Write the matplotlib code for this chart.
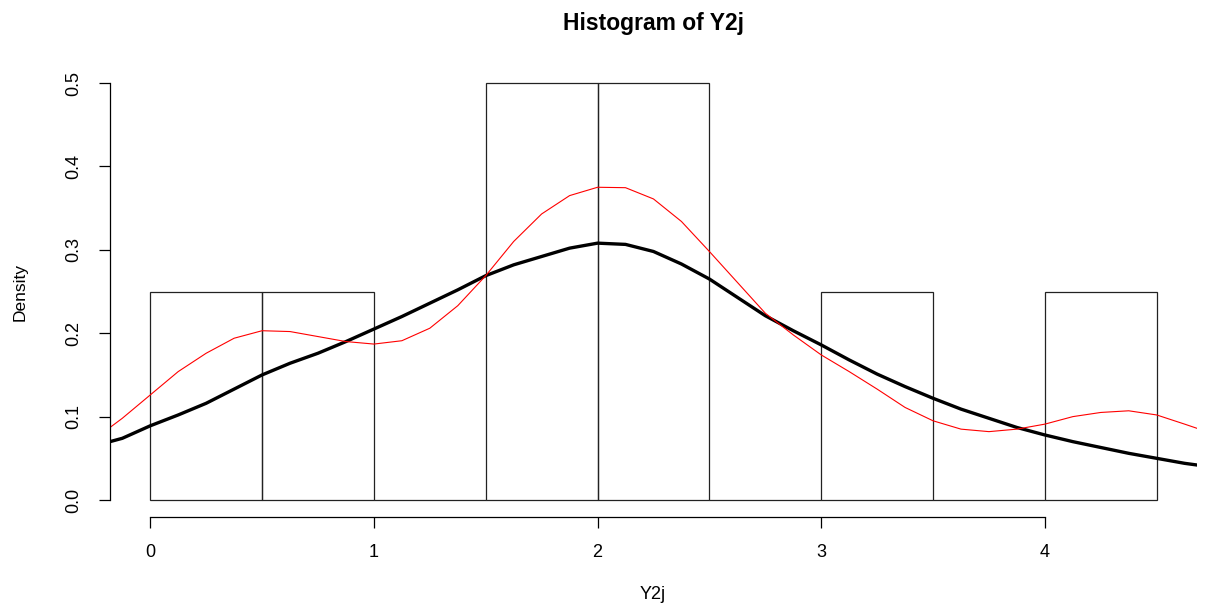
import numpy as np
import matplotlib
matplotlib.use('Agg')
import matplotlib.pyplot as plt

plt.rcParams['font.family'] = ['Liberation Sans', 'DejaVu Sans']

# 直方图（密度）
bin_left = [0.0, 0.5, 1.0, 1.5, 2.0, 2.5, 3.0, 3.5, 4.0]
bin_width = 0.5
density = [0.25, 0.25, 0.0, 0.5, 0.5, 0.0, 0.25, 0.0, 0.25]

# 曲线横坐标
curve_x = [-0.18, -0.125, 0.0, 0.125, 0.25, 0.375, 0.5, 0.625, 0.75, 0.875,
           1.0, 1.125, 1.25, 1.375, 1.5, 1.625, 1.75, 1.875, 2.0, 2.125,
           2.25, 2.375, 2.5, 2.625, 2.75, 2.875, 3.0, 3.125, 3.25, 3.375,
           3.5, 3.625, 3.75, 3.875, 4.0, 4.125, 4.25, 4.375, 4.5, 4.625, 4.68]

# 黑色粗线
black_y = [0.070, 0.074, 0.089, 0.102, 0.116, 0.133, 0.150, 0.164, 0.176, 0.190,
           0.205, 0.220, 0.236, 0.252, 0.269, 0.282, 0.292, 0.302, 0.308, 0.3065,
           0.298, 0.283, 0.265, 0.243, 0.221, 0.203, 0.186, 0.168, 0.151, 0.136,
           0.122, 0.109, 0.098, 0.087, 0.078, 0.070, 0.063, 0.056, 0.050, 0.044, 0.042]

# 红色细线
red_y = [0.087, 0.098, 0.126, 0.154, 0.176, 0.194, 0.203, 0.202, 0.196, 0.190,
         0.187, 0.191, 0.206, 0.233, 0.269, 0.310, 0.343, 0.365, 0.375, 0.3745,
         0.361, 0.334, 0.298, 0.261, 0.224, 0.198, 0.174, 0.154, 0.133, 0.111,
         0.095, 0.085, 0.082, 0.085, 0.091, 0.100, 0.105, 0.107, 0.102, 0.091, 0.086]

fig = plt.figure(figsize=(12.06, 6.03), dpi=100)
ax = fig.add_axes([0.0912, 0.1431, 0.9013, 0.7469])

ax.bar(bin_left, density, width=bin_width, align='edge', fill=False,
       edgecolor='#222222', linewidth=0.9)
ax.plot(curve_x, black_y, color='black', linewidth=2.4, solid_joinstyle='round')
ax.plot(curve_x, red_y, color='red', linewidth=0.8, solid_joinstyle='round')

ax.set_xlim(-0.18, 4.68)
ax.set_ylim(-0.02, 0.52)

for s in ['top', 'right']:
    ax.spines[s].set_visible(False)
ax.spines['left'].set_bounds(0, 0.5)
ax.spines['bottom'].set_bounds(0, 4)
ax.spines['left'].set_linewidth(0.9)
ax.spines['bottom'].set_linewidth(0.9)

ax.set_xticks([0, 1, 2, 3, 4])
ax.set_xticklabels(['0', '1', '2', '3', '4'])
ax.set_yticks([0.0, 0.1, 0.2, 0.3, 0.4, 0.5])
ax.set_yticklabels(['0.0', '0.1', '0.2', '0.3', '0.4', '0.5'], rotation=90, va='center')
ax.tick_params(axis='both', length=8, width=0.9, labelsize=13, pad=12)

ax.set_ylabel('Density', fontsize=12.5, labelpad=27)

# 标题和横轴标签直接按图像坐标放置
fig.text(0.542, 1 - 30 / 603, 'Histogram of Y2j', fontsize=16.5, fontweight='bold',
         ha='center', va='baseline')
fig.text(0.541, 1 - 599 / 603, 'Y2j', fontsize=13, ha='center', va='baseline')

fig.savefig('out.png', dpi=100)
